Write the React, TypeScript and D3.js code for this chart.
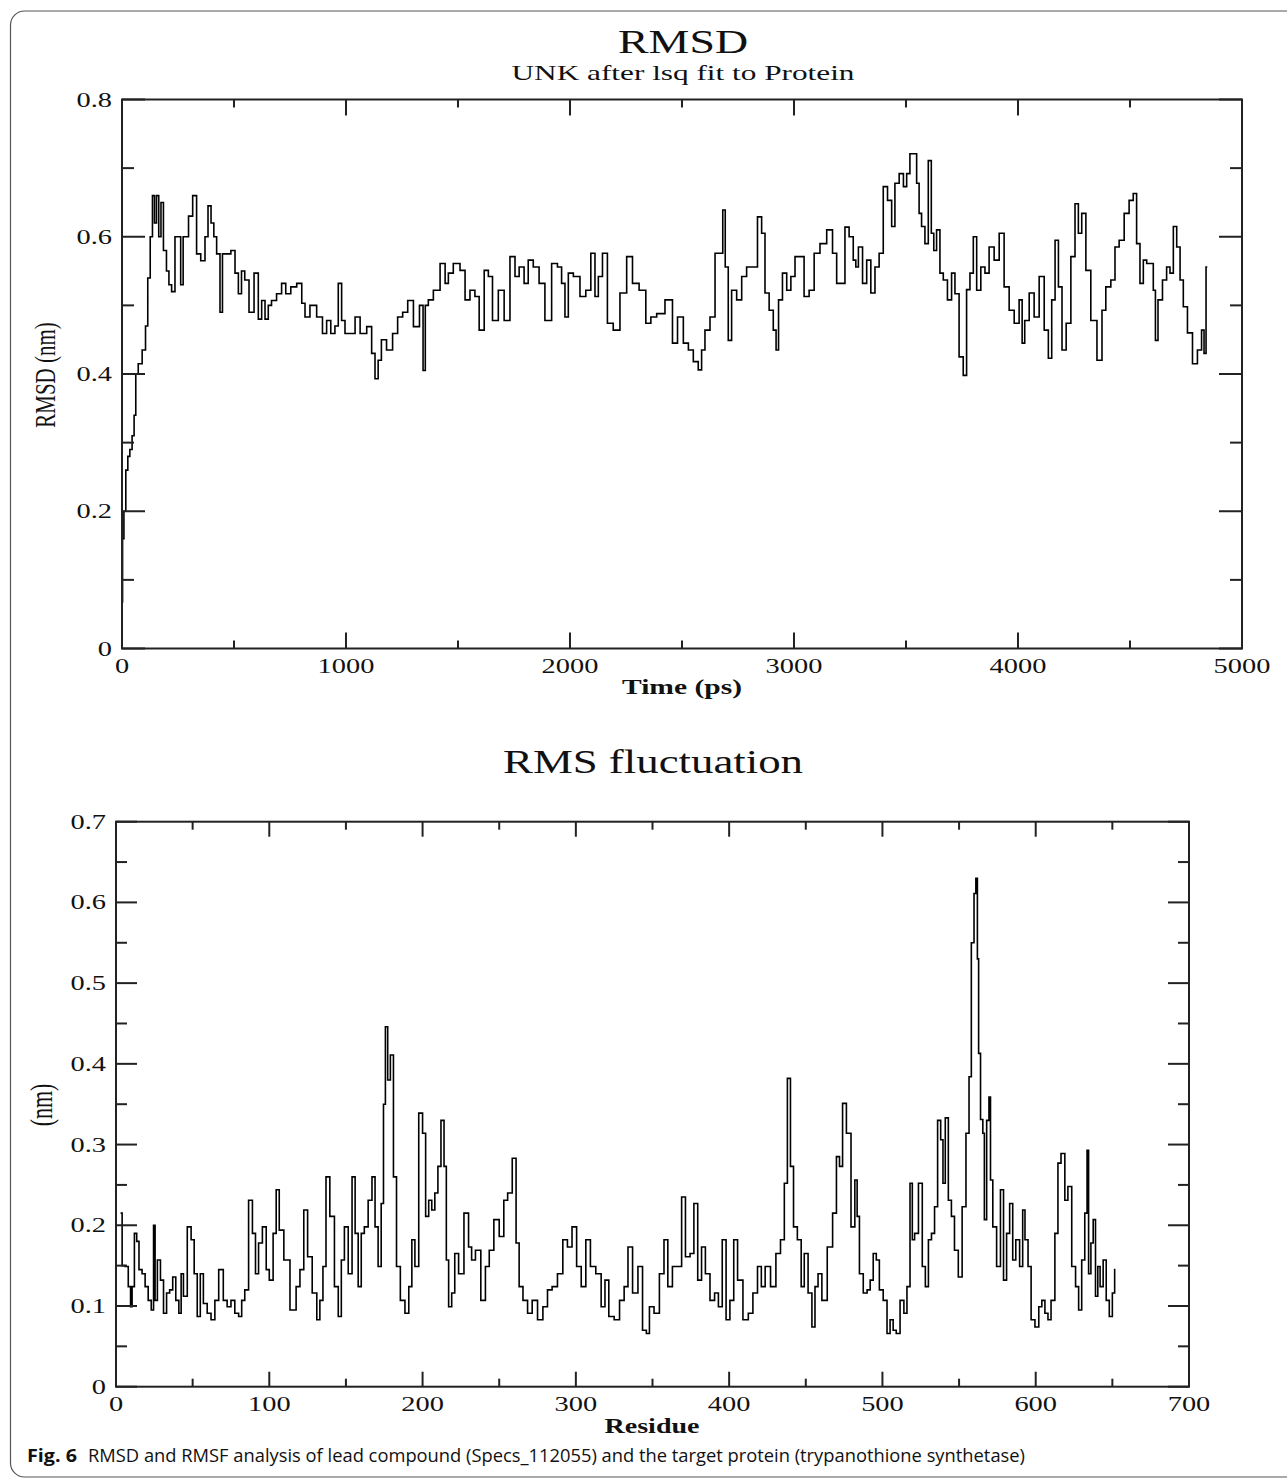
import React from "react";
import * as d3 from "d3";

// RMSD of ligand vs time (ps)
const rmsdTime = [0, 5, 12, 22, 30, 40, 50, 58, 65, 80, 100, 110, 120, 132, 140, 150, 158, 170, 178, 192, 205, 214, 229, 244, 258, 266, 280, 289, 305, 326, 340, 363, 378, 390, 405, 415, 430, 445, 452, 475, 497, 512, 527, 540, 556, 578, 601, 616, 631, 646, 660, 675, 705, 720, 742, 765, 795, 810, 824, 854, 884, 906, 921, 943, 958, 973, 988, 1003, 1033, 1048, 1078, 1107, 1122, 1137, 1150, 1166, 1196, 1220, 1241, 1265, 1286, 1316, 1340, 1348, 1360, 1375,
  1405, 1435, 1450, 1464, 1494, 1524, 1539, 1568, 1583, 1606, 1628, 1643, 1665, 1695, 1717, 1747, 1762, 1784, 1806, 1821, 1851, 1873, 1903, 1933, 1955, 1970, 1985, 2000, 2030, 2059, 2082, 2104, 2119, 2134, 2156, 2178, 2208, 2238, 2268, 2290, 2327, 2350, 2372, 2402, 2446, 2469, 2491, 2521, 2536, 2565, 2580, 2595, 2610, 2640, 2655, 2677, 2687, 2699, 2714, 2729, 2759, 2774, 2803, 2826, 2848, 2863, 2878, 2900, 2915, 2925, 2937, 2960, 2975, 2997,
  3012, 3034, 3056, 3079, 3101, 3131, 3161, 3183, 3198, 3220, 3235, 3257, 3272, 3280, 3295, 3317, 3332, 3354, 3369, 3391, 3406, 3429, 3443, 3458, 3481, 3496, 3510, 3525, 3540, 3555, 3562, 3577, 3592, 3607, 3619, 3629, 3644, 3659, 3674, 3696, 3711, 3726, 3748, 3763, 3778, 3793, 3808, 3823, 3845, 3860, 3882, 3905, 3927, 3949, 3972, 3994,
  4016, 4021, 4039, 4061, 4083, 4106, 4128, 4143, 4158, 4173, 4188, 4205, 4225, 4247, 4262, 4277, 4292, 4314, 4336, 4369, 4381, 4403, 4426, 4440, 4463, 4485, 4507, 4522, 4537, 4552, 4567, 4582, 4597, 4611, 4616, 4634, 4656, 4671, 4686, 4701, 4716, 4731, 4745, 4768, 4790, 4812, 4827, 4834, 4845];
const rmsdValue = [0.068, 0.16, 0.2, 0.26, 0.28, 0.29, 0.31, 0.34, 0.4, 0.415, 0.435, 0.47, 0.54, 0.6, 0.66, 0.62, 0.66, 0.6, 0.65, 0.58, 0.55, 0.53, 0.52, 0.6, 0.6, 0.53, 0.6, 0.6, 0.63, 0.66, 0.575, 0.565, 0.6, 0.645, 0.62, 0.6, 0.575, 0.49, 0.575, 0.575, 0.58, 0.547, 0.517, 0.55, 0.537, 0.49, 0.547, 0.48, 0.507, 0.48, 0.5, 0.507, 0.517, 0.532, 0.517, 0.527, 0.532, 0.503, 0.483, 0.5, 0.483, 0.459, 0.478, 0.459, 0.47, 0.532, 0.478, 0.459, 0.459, 0.483, 0.459, 0.469, 0.43, 0.393, 0.42, 0.45, 0.435, 0.459, 0.483, 0.49, 0.507, 0.469, 0.5, 0.405, 0.5, 0.508,
  0.522, 0.561, 0.532, 0.547, 0.561, 0.551, 0.508, 0.522, 0.513, 0.464, 0.551, 0.542, 0.478, 0.522, 0.478, 0.571, 0.542, 0.556, 0.532, 0.566, 0.556, 0.532, 0.478, 0.561, 0.556, 0.532, 0.483, 0.547, 0.542, 0.513, 0.522, 0.576, 0.513, 0.542, 0.576, 0.474, 0.464, 0.518, 0.571, 0.532, 0.522, 0.474, 0.483, 0.488, 0.508, 0.445, 0.483, 0.445, 0.435, 0.418, 0.406, 0.435, 0.464, 0.483, 0.576, 0.576, 0.639, 0.556, 0.449, 0.522, 0.508, 0.542, 0.556, 0.556, 0.629, 0.605, 0.518, 0.493, 0.464, 0.435, 0.508, 0.547, 0.522, 0.542,
  0.571, 0.571, 0.513, 0.522, 0.576, 0.59, 0.61, 0.576, 0.532, 0.532, 0.614, 0.6, 0.566, 0.556, 0.585, 0.532, 0.566, 0.518, 0.556, 0.576, 0.673, 0.653, 0.615, 0.678, 0.692, 0.673, 0.692, 0.721, 0.721, 0.678, 0.634, 0.615, 0.59, 0.711, 0.605, 0.58, 0.61, 0.547, 0.537, 0.508, 0.547, 0.517, 0.425, 0.398, 0.523, 0.547, 0.6, 0.522, 0.556, 0.547, 0.585, 0.566, 0.605, 0.527, 0.493, 0.474,
  0.508, 0.445, 0.478, 0.518, 0.483, 0.542, 0.464, 0.423, 0.508, 0.595, 0.527, 0.435, 0.474, 0.571, 0.648, 0.605, 0.634, 0.551, 0.478, 0.42, 0.493, 0.527, 0.537, 0.585, 0.595, 0.634, 0.653, 0.663, 0.59, 0.532, 0.566, 0.561, 0.561, 0.522, 0.449, 0.508, 0.537, 0.556, 0.547, 0.615, 0.585, 0.537, 0.498, 0.46, 0.415, 0.435, 0.464, 0.43, 0.556];

// RMS fluctuation per residue
const rmsfResidue = [3, 5, 7, 9, 10, 11, 13, 14, 16, 18, 20, 22, 24, 25, 26, 28, 30, 32, 34, 36, 38, 40, 42, 43, 45, 48, 50, 52, 54, 56, 58, 61, 63, 66, 68, 69, 71, 74, 76, 79, 81, 83, 85, 88, 90, 92, 94, 97, 99,
  101, 104, 105, 108, 111, 116, 119, 121, 124, 126, 130, 132, 134, 136, 138, 141, 144, 146, 148, 150, 153, 155, 157, 159, 161, 163, 166, 168, 170, 172, 174, 175, 176.5, 178, 180, 182, 184, 187, 190, 192, 194, 196, 199,
  201, 203, 205, 207, 209, 211, 213, 215, 216, 218, 220, 222, 225, 229, 231, 233, 236, 240, 242, 245, 248, 252, 254, 257, 260, 262, 264, 267, 270, 273, 277, 280, 283, 286, 290, 293, 296, 299,
  302, 305, 308, 311, 315, 318, 320, 323, 327, 330, 333, 335, 339, 342, 345, 347, 349, 353, 356, 359, 361, 365, 368, 370, 373, 376, 378, 381, 383, 386, 389, 392, 394, 397, 399,
  402, 404, 407, 411, 414, 417, 420, 422, 425, 429, 432, 435, 437, 439, 441, 443, 446, 448, 450, 453, 455, 457, 459, 462, 466, 469, 471, 473, 475, 478, 481, 483, 484, 486, 489, 491, 493, 495, 497, 499,
  502, 504, 506, 508, 510, 513, 515, 517, 519, 520, 522, 525, 527, 529, 531, 533, 535, 537, 539, 540, 542, 544, 546, 548, 551, 553, 556, 557, 559, 560.5, 561.4, 562.5, 563, 565, 566, 567, 569, 570, 571, 573, 576, 578, 580, 582, 584, 586, 588, 591, 592, 594, 596, 598,
  601, 603, 605, 607, 609, 611, 614, 615, 618, 620, 622, 625, 627, 629, 631, 633, 634, 635, 637, 638, 640, 641, 643, 645, 647, 649, 651, 652];
const rmsfValue = [0.215, 0.15, 0.149, 0.124, 0.099, 0.124, 0.19, 0.18, 0.145, 0.14, 0.124, 0.107, 0.095, 0.2, 0.107, 0.157, 0.132, 0.091, 0.116, 0.12, 0.136, 0.107, 0.091, 0.14, 0.112, 0.198, 0.182, 0.14, 0.087, 0.14, 0.103, 0.091, 0.083, 0.107, 0.145, 0.145, 0.107, 0.099, 0.107, 0.091, 0.087, 0.107, 0.12, 0.231, 0.19, 0.14, 0.178, 0.198, 0.145,
  0.132, 0.19, 0.244, 0.194, 0.157, 0.095, 0.124, 0.145, 0.219, 0.161, 0.116, 0.083, 0.107, 0.149, 0.26, 0.211, 0.124, 0.087, 0.157, 0.198, 0.14, 0.26, 0.19, 0.124, 0.19, 0.198, 0.231, 0.26, 0.198, 0.149, 0.227, 0.35, 0.446, 0.38, 0.411, 0.26, 0.149, 0.107, 0.091, 0.124, 0.182, 0.149, 0.339,
  0.314, 0.211, 0.231, 0.219, 0.24, 0.273, 0.33, 0.273, 0.157, 0.099, 0.116, 0.165, 0.14, 0.215, 0.173, 0.157, 0.169, 0.107, 0.149, 0.169, 0.207, 0.186, 0.231, 0.24, 0.283, 0.178, 0.124, 0.107, 0.091, 0.107, 0.083, 0.099, 0.12, 0.124, 0.14, 0.182, 0.173, 0.198,
  0.149, 0.124, 0.182, 0.149, 0.14, 0.099, 0.132, 0.087, 0.083, 0.107, 0.124, 0.173, 0.116, 0.149, 0.07, 0.066, 0.099, 0.091, 0.14, 0.182, 0.124, 0.149, 0.149, 0.235, 0.161, 0.165, 0.227, 0.132, 0.173, 0.14, 0.107, 0.116, 0.099, 0.182, 0.083,
  0.107, 0.182, 0.132, 0.083, 0.091, 0.116, 0.149, 0.124, 0.149, 0.124, 0.165, 0.182, 0.252, 0.382, 0.273, 0.198, 0.182, 0.124, 0.165, 0.116, 0.074, 0.124, 0.14, 0.107, 0.173, 0.215, 0.285, 0.273, 0.351, 0.314, 0.198, 0.256, 0.211, 0.14, 0.116, 0.12, 0.132, 0.165, 0.157, 0.12,
  0.107, 0.066, 0.083, 0.07, 0.066, 0.107, 0.091, 0.124, 0.252, 0.182, 0.19, 0.252, 0.149, 0.124, 0.182, 0.19, 0.223, 0.33, 0.306, 0.252, 0.333, 0.231, 0.211, 0.169, 0.136, 0.223, 0.314, 0.384, 0.55, 0.611, 0.63, 0.53, 0.413, 0.331, 0.314, 0.207, 0.33, 0.359, 0.256, 0.198, 0.149, 0.244, 0.132, 0.19, 0.227, 0.157, 0.182, 0.149, 0.219, 0.182, 0.149, 0.083,
  0.074, 0.099, 0.107, 0.091, 0.083, 0.107, 0.19, 0.277, 0.289, 0.231, 0.248, 0.149, 0.124, 0.095, 0.157, 0.215, 0.293, 0.14, 0.178, 0.207, 0.112, 0.149, 0.124, 0.157, 0.107, 0.087, 0.116, 0.145];

const captionBold = "Fig. 6";
const captionText = "RMSD and RMSF analysis of lead compound (Specs_112055) and the target protein (trypanothione synthetase)";

const SERIF = "'Liberation Serif', 'Times New Roman', serif";
const SX = 1.42; // the figure is stretched horizontally

const fmt = d3.format("~g");

function SText({ x, y, children, anchor = "middle", size = 20, weight = "normal", rotate = false, length }: any) {
  const tr = rotate
    ? `translate(${x},${y}) rotate(-90) scale(1,${SX})`
    : `translate(${x},${y}) scale(${SX},1)`;
  return (
    <text transform={tr} textAnchor={anchor} fontFamily={SERIF} fontSize={size} fontWeight={weight} fill="#111"
      textLength={length ? length / SX : undefined} lengthAdjust={length ? "spacingAndGlyphs" : undefined}>
      {children}
    </text>
  );
}

function Panel({ xs, ys, left, top, right, bottom, xDomain, yDomain, xTicks, yTicks, tick }: any) {
  const x = d3.scaleLinear().domain(xDomain).range([left, right]);
  const y = d3.scaleLinear().domain(yDomain).range([bottom, top]);
  const pts = xs.map((d: number, i: number) => [d, ys[i]]);
  const path = d3.line().x((d: any) => x(d[0])).y((d: any) => y(d[1])).curve(d3.curveStep)(pts);

  const xMaj = x.ticks(xTicks);
  const xMin = x.ticks(xTicks * 2).filter((v) => !xMaj.includes(v));
  const yMaj = y.ticks(yTicks);
  const yMin = y.ticks(yTicks * 2).filter((v) => !yMaj.some((m) => Math.abs(m - v) < 1e-9));

  return (
    <g>
      <path d={path || ""} fill="none" stroke="#000" strokeWidth={1.6} />
      <rect x={left} y={top} width={right - left} height={bottom - top} fill="none" stroke="#222" strokeWidth={2} />
      {xMaj.map((v) => (
        <g key={"xM" + v}>
          <line x1={x(v)} x2={x(v)} y1={bottom} y2={bottom - tick.xMaj} stroke="#222" strokeWidth={2} />
          <line x1={x(v)} x2={x(v)} y1={top} y2={top + tick.xMaj} stroke="#222" strokeWidth={2} />
          <SText x={x(v)} y={bottom + 24}>{fmt(v)}</SText>
        </g>
      ))}
      {xMin.map((v) => (
        <g key={"xm" + v}>
          <line x1={x(v)} x2={x(v)} y1={bottom} y2={bottom - tick.xMin} stroke="#222" strokeWidth={2} />
          <line x1={x(v)} x2={x(v)} y1={top} y2={top + tick.xMin} stroke="#222" strokeWidth={2} />
        </g>
      ))}
      {yMaj.map((v) => (
        <g key={"yM" + v}>
          <line x1={left} x2={left + tick.yMaj} y1={y(v)} y2={y(v)} stroke="#222" strokeWidth={2} />
          <line x1={right} x2={right - tick.yMaj} y1={y(v)} y2={y(v)} stroke="#222" strokeWidth={2} />
          <SText x={left - 10} y={y(v) + 7} anchor="end">{fmt(v)}</SText>
        </g>
      ))}
      {yMin.map((v) => (
        <g key={"ym" + v}>
          <line x1={left} x2={left + tick.yMin} y1={y(v)} y2={y(v)} stroke="#222" strokeWidth={2} />
          <line x1={right} x2={right - tick.yMin} y1={y(v)} y2={y(v)} stroke="#222" strokeWidth={2} />
        </g>
      ))}
    </g>
  );
}

export default function App() {
  return (
    <svg width={1287} height={1478} style={{ position: "absolute", left: 0, top: 0, background: "#fff" }}>
      <rect x={10.5} y={11} width={1300} height={1466} rx={14} fill="#fff" stroke="#555" strokeWidth={1.2} />

      {/* RMSD panel */}
      <SText x={683} y={53} size={33} length={130}>RMSD</SText>
      <SText x={683} y={80} size={22} length={343}>UNK after lsq fit to Protein</SText>
      <Panel xs={rmsdTime} ys={rmsdValue} left={122} top={99.5} right={1242} bottom={648.5}
        xDomain={[0, 5000]} yDomain={[0, 0.8]} xTicks={5} yTicks={4}
        tick={{ xMaj: 16, xMin: 8, yMaj: 23, yMin: 12 }} />
      <SText x={682} y={694} size={20} weight="bold" length={120}>Time (ps)</SText>
      <SText x={55} y={375} size={21} rotate>RMSD (nm)</SText>

      {/* RMSF panel */}
      <SText x={653} y={773} size={33} length={300}>RMS fluctuation</SText>
      <Panel xs={rmsfResidue} ys={rmsfValue} left={116} top={821.7} right={1189} bottom={1386.7}
        xDomain={[0, 700]} yDomain={[0, 0.7]} xTicks={7} yTicks={7}
        tick={{ xMaj: 15, xMin: 8, yMaj: 21, yMin: 11 }} />
      <SText x={652} y={1433} size={20} weight="bold" length={95}>Residue</SText>
      <SText x={52} y={1105} size={22} rotate>(nm)</SText>

      <text x={27} y={1462} fontFamily="'Open Sans', 'Noto Sans', sans-serif" fontWeight="bold" fontSize={18}
        fill="#111" textLength={50} lengthAdjust="spacingAndGlyphs">{captionBold}</text>
      <text x={88} y={1462} fontFamily="'Open Sans', 'Noto Sans', sans-serif" fontSize={18}
        fill="#111" textLength={937} lengthAdjust="spacingAndGlyphs">{captionText}</text>
    </svg>
  );
}
